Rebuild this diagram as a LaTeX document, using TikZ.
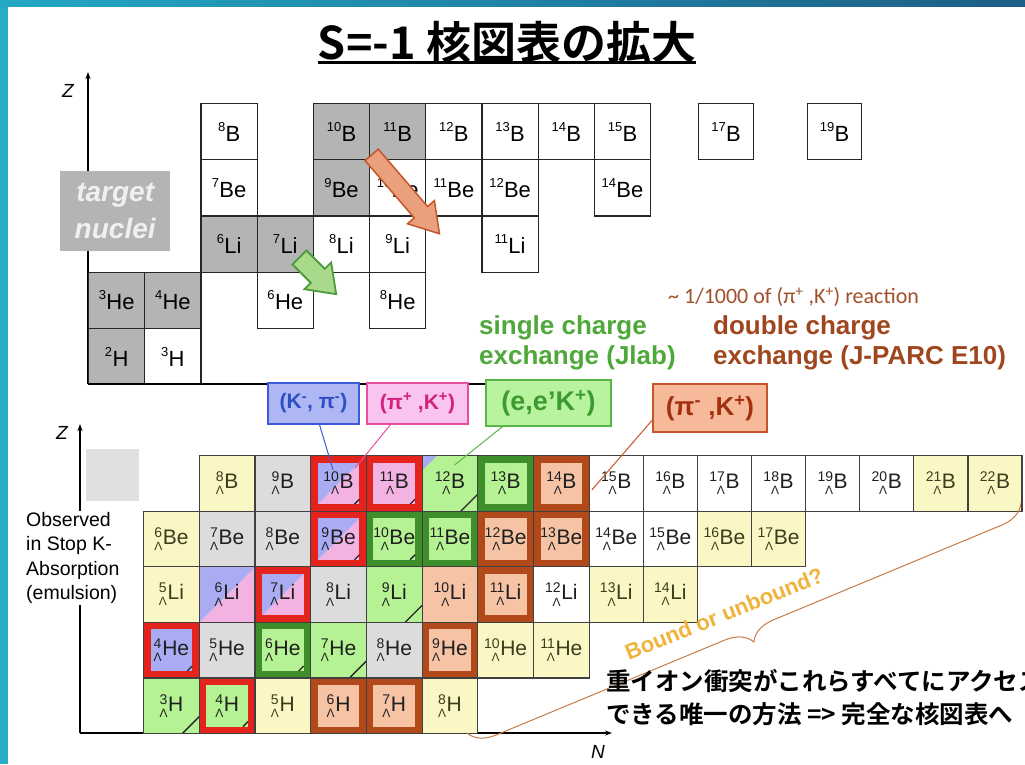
\documentclass[tikz,border=0pt]{standalone}
\usepackage{fontspec}
\setmainfont{Liberation Sans}
\newfontfamily\cjk{Noto Sans CJK JP}[BoldFont={Noto Sans CJK JP Bold}]
\newfontfamily\calib{Carlito}
\usetikzlibrary{shapes.arrows,decorations.pathreplacing,calc,arrows.meta}

\definecolor{cframe}{HTML}{2AACC6}
\definecolor{ctopL}{HTML}{23A8C4}
\definecolor{ctopR}{HTML}{1D5E86}
\definecolor{cugr}{HTML}{B4B4B4}
\definecolor{cyel}{HTML}{FBF7C4}
\definecolor{cyeltxt}{HTML}{3C3C1E}
\definecolor{cgry}{HTML}{DCDCDC}
\definecolor{cleg}{HTML}{E0E0E0}
\definecolor{cblu}{HTML}{A9ACF2}
\definecolor{cpnk}{HTML}{F2B3E3}
\definecolor{cgrn}{HTML}{B5F293}
\definecolor{corg}{HTML}{F6C3A5}
\definecolor{cred}{HTML}{E4231C}
\definecolor{cdgr}{HTML}{3E8E2C}
\definecolor{cbrn}{HTML}{B1491A}
\definecolor{kpifill}{HTML}{AEB6F4}
\definecolor{kpidraw}{HTML}{3D5BD9}
\definecolor{kpitxt}{HTML}{2E4FC4}
\definecolor{pikfill}{HTML}{F9C4EE}
\definecolor{pikdraw}{HTML}{E8509F}
\definecolor{piktxt}{HTML}{D4207F}
\definecolor{eekfill}{HTML}{B8F4A0}
\definecolor{eekdraw}{HTML}{5AB548}
\definecolor{eektxt}{HTML}{3C9A2E}
\definecolor{pmkfill}{HTML}{F6B99A}
\definecolor{pmkdraw}{HTML}{C5532C}
\definecolor{pmktxt}{HTML}{A3300F}
\definecolor{cbrtxt}{HTML}{A0502A}
\definecolor{cgtxt}{HTML}{4FA83A}
\definecolor{cdtxt}{HTML}{A0461E}
\definecolor{cbound}{HTML}{F0B43C}
\definecolor{cbrace}{HTML}{C97B45}
\definecolor{oafill}{HTML}{EBA07D}
\definecolor{oadraw}{HTML}{C4562A}
\definecolor{gafill}{HTML}{A9D98B}
\definecolor{gadraw}{HTML}{4E9B3B}

\newsavebox\hyA \newsavebox\hyB \newlength\hyW
\newcommand{\hy}[2]{%
  \sbox\hyA{\fontsize{14}{14}\selectfont #1}%
  \sbox\hyB{\fontsize{12}{12}\selectfont Λ}%
  \setlength\hyW{\wd\hyA}%
  \ifdim\wd\hyB>\hyW\setlength\hyW{\wd\hyB}\fi
  \makebox[\hyW][l]{\raisebox{7pt}{\usebox\hyA}}\kern-\hyW
  \makebox[\hyW][r]{\raisebox{-6pt}{\usebox\hyB}}%
  \kern0.6pt{\fontsize{21}{21}\selectfont #2}}
\newcommand{\nuc}[2]{\raisebox{10pt}{\fontsize{13}{13}\selectfont #1}\kern0.3pt{\fontsize{22}{22}\selectfont #2}}

\newcommand{\thickb}[1]{\draw[line width=7pt,draw=#1] ([shift={(3.5pt,-3.5pt)}]path picture bounding box.north west) rectangle ([shift={(-3.5pt,3.5pt)}]path picture bounding box.south east);}
\newcommand{\splitbp}{\fill[cblu] (path picture bounding box.north west) -- (path picture bounding box.north east) -- (path picture bounding box.south west) -- cycle;}
\newcommand{\bcorner}{\fill[cblu] (path picture bounding box.north west) -- ([xshift=15pt]path picture bounding box.north west) -- ([yshift=-15pt]path picture bounding box.north west) -- cycle;}
\newcommand{\diagc}{\draw[line width=1.3pt,black!85] ([xshift=-17pt]path picture bounding box.south east) -- ([yshift=17pt]path picture bounding box.south east);}
\newcommand{\tickc}{\draw[line width=1.3pt,black!85] ([shift={(-12pt,7pt)}]path picture bounding box.south east) -- ([shift={(-7pt,12pt)}]path picture bounding box.south east);}

\tikzset{
  ucell/.style={draw=black!85, line width=1.2pt, minimum width=56.2pt, minimum height=56.2pt, inner sep=0pt, anchor=north west, text=black},
  ug/.style={fill=cugr}, uw/.style={fill=white},
  lcell/.style={draw=black!75, line width=1.2pt, minimum width=55.7pt, minimum height=55.6pt, inner sep=0pt, anchor=north west, text=black!88},
  nar/.style={minimum width=54.1pt},
  yel/.style={fill=cyel, text=cyeltxt}, gry/.style={fill=cgry}, wht/.style={fill=white},
  grn/.style={fill=cgrn}, org/.style={fill=corg}, blu/.style={fill=cblu}, pnk/.style={fill=cpnk},
  pp/.style={path picture={#1}},
  lab/.style={line width=1.3pt, inner sep=0pt, font=\bfseries},
  conn/.style={line width=1pt},
  axis/.style={line width=1.3pt},
  fatarrow/.style={single arrow, single arrow head indent=0pt, inner xsep=0pt, single arrow head extend=9pt}
}
\newcommand{\UC}[5]{\node[ucell,#4] (#1) at ({88+56.2*(#2-1)},#3) {\nuc#5};}
\newcommand{\LC}[5]{\node[lcell,#4] (#1) at ({ifthenelse(#2<8,143+55.7*#2,588.6+54.1*(#2-8))},{455+55.6*(5-#3)}) {\hy#5};}

\begin{document}
\begin{tikzpicture}[x=1pt,y=-1pt]
\useasboundingbox (0,0) rectangle (1025,764);
% frame
\fill[cframe] (0,0) rectangle (1025,764);
\shade[left color=ctopL, right color=ctopR] (0,0) rectangle (1025,7);
\fill[white] (8,7) rectangle (1025,764);

% title
\node[font=\cjk\bfseries\fontsize{45}{45}\selectfont, inner sep=0pt] (title) at (507,42) {S=-1 核図表の拡大};
\draw[line width=2.5pt] ([yshift=1pt]title.south west) -- ([yshift=1pt]title.south east);

% ---------- upper chart ----------
\coordinate (uo) at (88,384);
\coordinate (uztop) at (88,72);
\coordinate (uxend) at (490,384);
\draw[axis,-{Stealth[length=7pt,width=5pt]}] (uo) -- (uztop);
\node[font=\itshape\fontsize{19}{19}\selectfont] (uz) at (68,91) {Z};

\UC{UB8}{3}{103}{uw}{{8}{B}}
\UC{UB10}{5}{103}{ug}{{10}{B}}
\UC{UB11}{6}{103}{ug}{{11}{B}}
\UC{UB12}{7}{103}{uw}{{12}{B}}
\UC{UB13}{8}{103}{uw}{{13}{B}}
\UC{UB14}{9}{103}{uw}{{14}{B}}
\UC{UB15}{10}{103}{uw}{{15}{B}}
\node[ucell,uw,minimum width=55pt] (UB17) at (698,103) {\nuc{17}{B}};
\node[ucell,uw,minimum width=54pt] (UB19) at (807,103) {\nuc{19}{B}};
\UC{UBe7}{3}{159.2}{uw}{{7}{Be}}
\UC{UBe9}{5}{159.2}{ug}{{9}{Be}}
\UC{UBe10}{6}{159.2}{uw}{{10}{Be}}
\UC{UBe11}{7}{159.2}{uw}{{11}{Be}}
\UC{UBe12}{8}{159.2}{uw}{{12}{Be}}
\UC{UBe14}{10}{159.2}{uw}{{14}{Be}}
\UC{ULi6}{3}{215.4}{ug}{{6}{Li}}
\UC{ULi7}{4}{215.4}{ug}{{7}{Li}}
\UC{ULi8}{5}{215.4}{uw}{{8}{Li}}
\UC{ULi9}{6}{215.4}{uw}{{9}{Li}}
\UC{ULi11}{8}{215.4}{uw}{{11}{Li}}
\UC{UHe3}{1}{271.6}{ug}{{3}{He}}
\UC{UHe4}{2}{271.6}{ug}{{4}{He}}
\UC{UHe6}{4}{271.6}{uw}{{6}{He}}
\UC{UHe8}{6}{271.6}{uw}{{8}{He}}
\UC{UH2}{1}{327.8}{ug}{{2}{H}}
\UC{UH3}{2}{327.8}{uw}{{3}{H}}
\draw[line width=2.4pt] (uo) -- (uxend);

\node[fill=cugr, minimum width=110pt, minimum height=80pt, anchor=north west, align=center, text=white!94!black, font=\bfseries\itshape\fontsize{28}{37}\selectfont] (tgt) at (60,171) {target\\nuclei};

\node[fatarrow, draw=oadraw, fill=oafill, line width=1.5pt, minimum height=104pt, inner ysep=8pt, single arrow tip angle=64, rotate=-49.3] (oarr) at (401,189) {};
\node[fatarrow, draw=gadraw, fill=gafill, line width=1.8pt, minimum height=52pt, inner ysep=9pt, single arrow tip angle=72, rotate=-45] (garr) at (313,271) {};

% upper-right texts
\node[anchor=west, inner sep=0pt, font=\calib\fontsize{22}{22}\selectfont, text=cbrtxt] (rat) at (668,297) {\textasciitilde\ 1/1000 of (π\textsuperscript{+} ,K\textsuperscript{+}) reaction};
\node[anchor=west, inner sep=0pt, align=left, font=\bfseries\fontsize{26}{30}\selectfont, text=cgtxt] (sce) at (479,343) {single charge\\exchange (Jlab)};
\node[anchor=west, inner sep=0pt, align=left, font=\bfseries\fontsize{26}{30}\selectfont, text=cdtxt] (dce) at (713,343) {double charge\\exchange (J-PARC E10)};

% label boxes
\node[lab, draw=kpidraw, fill=kpifill, text=kpitxt, minimum width=91pt, minimum height=41pt, font=\bfseries\fontsize{21}{21}\selectfont] (kpi) at (313.5,403.5) {(K\textsuperscript{-}, π\textsuperscript{-})};
\node[lab, draw=pikdraw, fill=pikfill, text=piktxt, minimum width=101pt, minimum height=41pt, font=\bfseries\fontsize{21}{21}\selectfont] (pik) at (417.5,403.5) {(π\textsuperscript{+} ,K\textsuperscript{+})};
\node[lab, draw=eekdraw, fill=eekfill, text=eektxt, minimum width=125pt, minimum height=46pt, font=\bfseries\fontsize{27}{27}\selectfont] (eek) at (548.5,403) {(e,e’K\textsuperscript{+})};
\node[lab, draw=pmkdraw, fill=pmkfill, text=pmktxt, minimum width=114pt, minimum height=48pt, font=\bfseries\fontsize{26}{26}\selectfont] (pmk) at (710,408) {(π\textsuperscript{-} ,K\textsuperscript{+})};

% ---------- lower chart ----------
\coordinate (lo) at (80,733);
\coordinate (lztop) at (80,424);
\coordinate (lnend) at (612,733);
\draw[axis,-{Stealth[length=7pt,width=5pt]}] (lo) -- (lztop);
\draw[axis,-{Stealth[length=7pt,width=5pt]}] (lo) -- (lnend);
\node[font=\itshape\fontsize{19}{19}\selectfont] (lz) at (62,433) {Z};
\node[font=\itshape\fontsize{19}{19}\selectfont] (ln) at (598,752) {N};
\node[fill=cleg, minimum width=53pt, minimum height=52pt, anchor=north west, inner sep=0pt] (leg) at (86,449) {};
\node[fill=white, align=left, anchor=north west, inner sep=1pt, font=\fontsize{19.5}{24.5}\selectfont] (obs) at (25,511) {Observed\\in Stop K-\\Absorption\\(emulsion)};

% B row
\LC{LB8}{1}{5}{yel}{{8}{B}}
\LC{LB9}{2}{5}{gry}{{9}{B}}
\LC{LB10}{3}{5}{pnk,pp={\splitbp\thickb{cred}\tickc}}{{10}{B}}
\LC{LB11}{4}{5}{pnk,pp={\thickb{cred}\tickc}}{{11}{B}}
\LC{LB12}{5}{5}{grn,pp={\bcorner\diagc}}{{12}{B}}
\LC{LB13}{6}{5}{grn,pp={\thickb{cdgr}}}{{13}{B}}
\LC{LB14}{7}{5}{org,pp={\thickb{cbrn}}}{{14}{B}}
\LC{LB15}{8}{5}{wht,nar}{{15}{B}}
\LC{LB16}{9}{5}{wht,nar}{{16}{B}}
\LC{LB17}{10}{5}{wht,nar}{{17}{B}}
\LC{LB18}{11}{5}{wht,nar}{{18}{B}}
\LC{LB19}{12}{5}{wht,nar}{{19}{B}}
\LC{LB20}{13}{5}{wht,nar}{{20}{B}}
\LC{LB21}{14}{5}{yel,nar}{{21}{B}}
\LC{LB22}{15}{5}{yel,nar}{{22}{B}}
% Be row
\LC{LBe6}{0}{4}{yel}{{6}{Be}}
\LC{LBe7}{1}{4}{gry}{{7}{Be}}
\LC{LBe8}{2}{4}{gry}{{8}{Be}}
\LC{LBe9}{3}{4}{pnk,pp={\splitbp\thickb{cred}\tickc}}{{9}{Be}}
\LC{LBe10}{4}{4}{grn,pp={\thickb{cdgr}\tickc}}{{10}{Be}}
\LC{LBe11}{5}{4}{grn,pp={\thickb{cdgr}}}{{11}{Be}}
\LC{LBe12}{6}{4}{org,pp={\thickb{cbrn}}}{{12}{Be}}
\LC{LBe13}{7}{4}{org,pp={\thickb{cbrn}}}{{13}{Be}}
\LC{LBe14}{8}{4}{wht,nar}{{14}{Be}}
\LC{LBe15}{9}{4}{wht,nar}{{15}{Be}}
\LC{LBe16}{10}{4}{yel,nar}{{16}{Be}}
\LC{LBe17}{11}{4}{yel,nar}{{17}{Be}}
% Li row
\LC{LLi5}{0}{3}{yel}{{5}{Li}}
\LC{LLi6}{1}{3}{pnk,pp={\splitbp}}{{6}{Li}}
\LC{LLi7}{2}{3}{pnk,pp={\splitbp\thickb{cred}}}{{7}{Li}}
\LC{LLi8}{3}{3}{gry}{{8}{Li}}
\LC{LLi9}{4}{3}{grn,pp={\diagc}}{{9}{Li}}
\LC{LLi10}{5}{3}{org}{{10}{Li}}
\LC{LLi11}{6}{3}{org,pp={\thickb{cbrn}}}{{11}{Li}}
\LC{LLi12}{7}{3}{wht}{{12}{Li}}
\LC{LLi13}{8}{3}{yel,nar}{{13}{Li}}
\LC{LLi14}{9}{3}{yel,nar}{{14}{Li}}
% He row
\LC{LHe4}{0}{2}{blu,pp={\thickb{cred}\tickc}}{{4}{He}}
\LC{LHe5}{1}{2}{gry}{{5}{He}}
\LC{LHe6}{2}{2}{grn,pp={\thickb{cdgr}\tickc}}{{6}{He}}
\LC{LHe7}{3}{2}{grn,pp={\diagc}}{{7}{He}}
\LC{LHe8}{4}{2}{gry}{{8}{He}}
\LC{LHe9}{5}{2}{org,pp={\thickb{cbrn}}}{{9}{He}}
\LC{LHe10}{6}{2}{yel}{{10}{He}}
\LC{LHe11}{7}{2}{yel}{{11}{He}}
% H row
\LC{LH3}{0}{1}{grn,pp={\diagc}}{{3}{H}}
\LC{LH4}{1}{1}{grn,pp={\thickb{cred}\tickc}}{{4}{H}}
\LC{LH5}{2}{1}{yel}{{5}{H}}
\LC{LH6}{3}{1}{org,pp={\thickb{cbrn}}}{{6}{H}}
\LC{LH7}{4}{1}{org,pp={\thickb{cbrn}}}{{7}{H}}
\LC{LH8}{5}{1}{yel}{{8}{H}}

% connectors
\draw[conn, draw=kpidraw] ([xshift=6pt]kpi.south) -- ($(LB10.north west)+(23,15)$);
\draw[conn, draw=pikdraw] ([xshift=-27pt]pik.south) -- ($(LB10.north west)+(45,13)$);
\draw[conn, draw=eekdraw] ([xshift=-46pt]eek.south) -- ($(LB12.north west)+(33,10)$);
\draw[conn, draw=pmkdraw] ([yshift=-12pt]pmk.west) -- ($(LB14.north east)+(2,35)$);

% brace and notes
\coordinate (bra) at (467,733);
\coordinate (brb) at (1021,503);
\draw[decorate, decoration={brace, mirror, amplitude=26pt, aspect=0.5}, draw=cbrace, line width=1pt] (bra) -- (brb);
\node[rotate=22, inner sep=0pt, font=\bfseries\fontsize{22}{22}\selectfont, text=cbound] (bou) at (724,614) {Bound or unbound?};
\node[anchor=west, inner sep=0pt, align=left, font=\cjk\bfseries\fontsize{24.5}{33}\selectfont] (hic) at (606,698) {重イオン衝突がこれらすべてにアクセス\\できる唯一の方法 => 完全な核図表へ};
\end{tikzpicture}
\end{document}
